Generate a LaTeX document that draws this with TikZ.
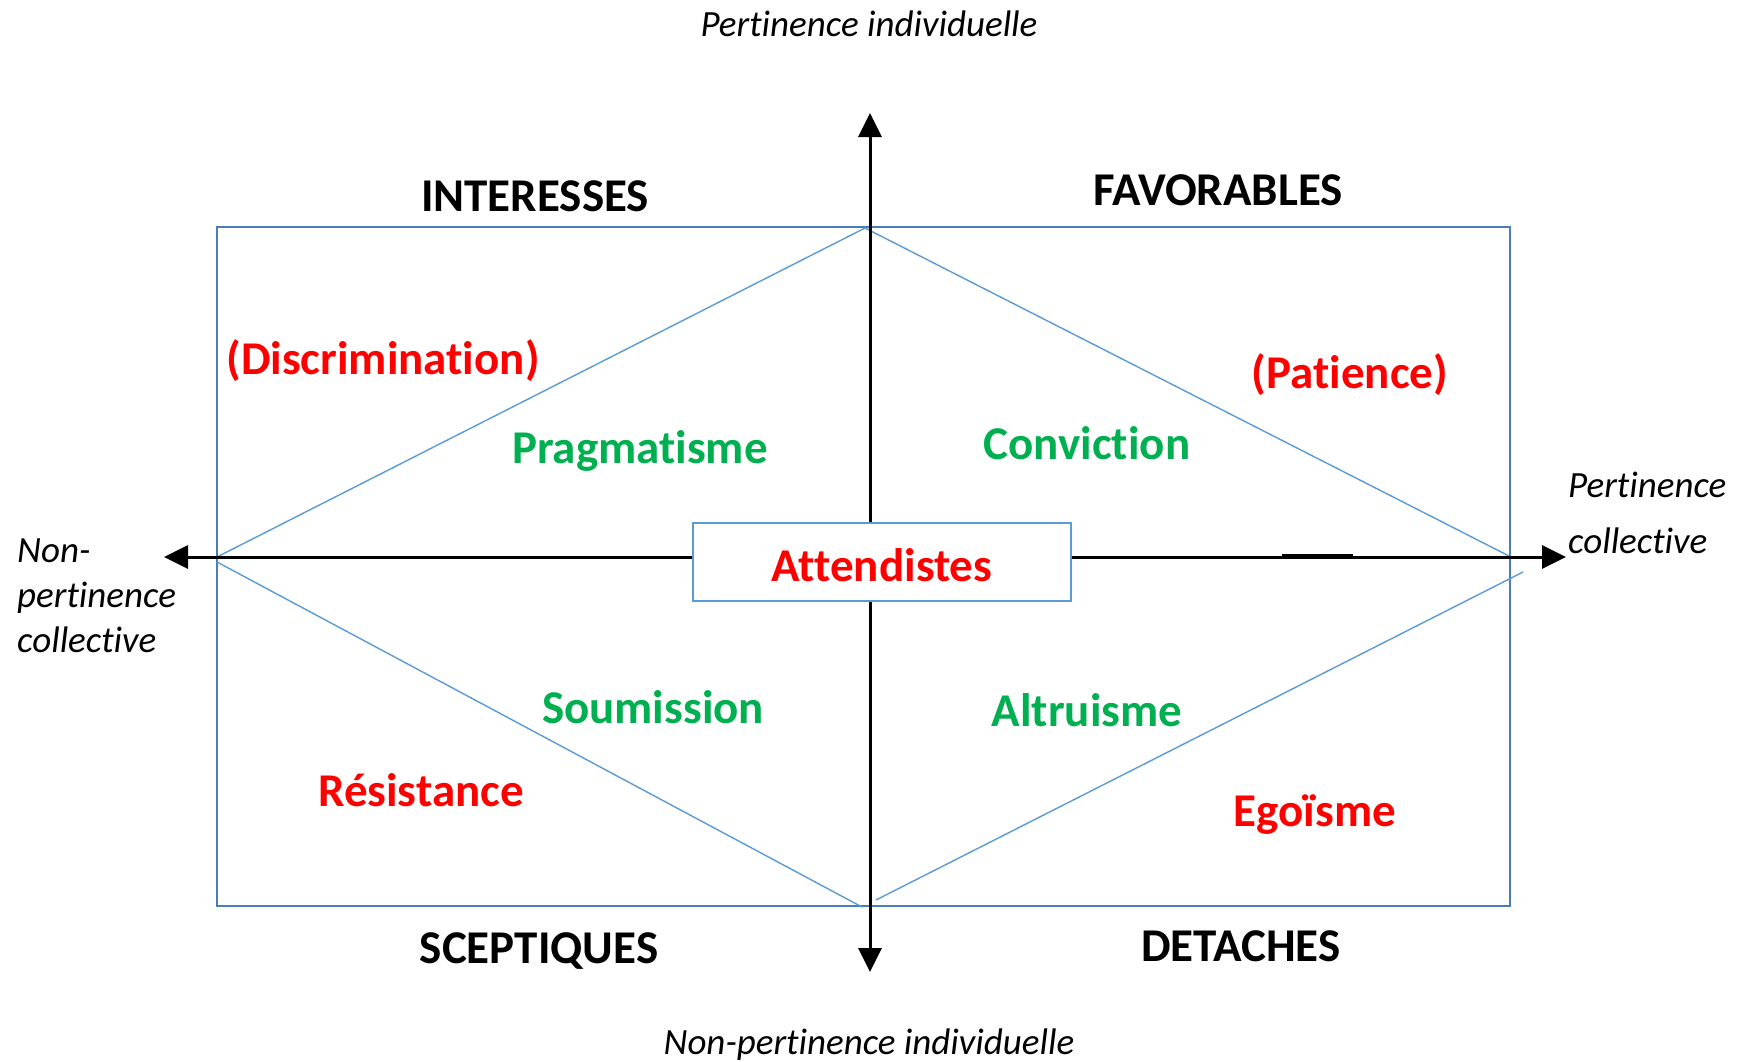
\documentclass[tikz,border=0pt]{standalone}
\usepackage{fontspec}
\setmainfont{Carlito}[RawFeature={-liga;-clig;-calt;-dlig;-rlig}]
\usetikzlibrary{arrows.meta}
\definecolor{boxblue}{HTML}{4A7EBB}
\definecolor{diamblue}{HTML}{5B9BD5}
\definecolor{lblred}{HTML}{FF0000}
\definecolor{lblgreen}{HTML}{00B050}
\tikzset{
  axis/.style={line width=3pt, black, -{Triangle[length=24pt,width=23pt]}},
  frame/.style={line width=2.5pt, boxblue},
  diag/.style={line width=1.4pt, diamblue},
  head/.style={font=\fontsize{47}{50}\selectfont\bfseries, text=black, inner sep=0pt},
  redlbl/.style={font=\fontsize{47}{50}\selectfont\bfseries, text=lblred, inner sep=0pt},
  greenlbl/.style={font=\fontsize{47}{50}\selectfont\bfseries, text=lblgreen, inner sep=0pt},
  axlbl/.style={font=\fontsize{37}{45}\selectfont\itshape, text=black, inner sep=0pt, align=left},
}
\begin{document}
\begin{tikzpicture}[x=1pt,y=-1pt]
  \useasboundingbox (0,0) rectangle (1738,1061);
  \fill[white] (0,0) rectangle (1738,1061);

  % outer frame
  \draw[frame] (217,227) rectangle (1510,906);

  % diamond
  \coordinate (dT) at (865,228);
  \coordinate (dL) at (217,557);
  \coordinate (dR) at (1511,557);
  \coordinate (dB) at (862,907);
  \coordinate (dB2) at (876,900);
  \coordinate (dR2) at (1523,572);
  \coordinate (dL2) at (217,562);
  \draw[diag] (dL) -- (dT) -- (dR);
  \draw[diag] (dL2) -- (dB);
  \draw[diag] (dB2) -- (dR2);

  % centre box
  \node[draw=diamblue, line width=2pt, fill=white, minimum width=378pt, minimum height=78pt,
        inner sep=0pt] (att) at (882,562) {};
  \node[redlbl] (attl) at (882,565) {Attendistes};

  % axes
  \coordinate (tipT) at (870,113);
  \coordinate (tipB) at (870,972);
  \coordinate (tipL) at (164,557);
  \coordinate (tipR) at (1566,557);
  \draw[axis] (att.north -| tipT) -- (tipT);
  \draw[axis] (att.south -| tipB) -- (tipB);
  \draw[axis] (att.west |- tipL) -- (tipL);
  \draw[axis] (att.east |- tipR) -- (tipR);
  \coordinate (segA) at (1282,556.5);
  \coordinate (segB) at (1353,556.5);
  \draw[line width=4.5pt] (segA) -- (segB);

  % axis labels
  \node[axlbl, anchor=center] (pi) at (869,24) {Pertinence individuelle};
  \node[axlbl, anchor=center] (npi) at (869,1045) {Non-pertinence individuelle};
  \node[axlbl, anchor=north west] (npc) at (17,539) {Non-\\pertinence\\collective};
  \node[axlbl, anchor=north west] (pc) at (1568,472) {Pertinence\\[11pt]collective};

  % quadrant titles
  \node[head] (q1) at (535,196) {INTERESSES};
  \node[head] (q2) at (1218,190) {FAVORABLES};
  \node[head] (q3) at (539,951) {SCEPTIQUES};
  \node[head] (q4) at (1241,946) {DETACHES};

  % attitudes
  \node[redlbl] (l1) at (383,361) {(Discrimination)};
  \node[greenlbl] (l2) at (640,451) {Pragmatisme};
  \node[greenlbl] (l3) at (1087,443) {Conviction};
  \node[redlbl] (l4) at (1350,375) {(Patience)};
  \node[greenlbl] (l5) at (653,707) {Soumission};
  \node[redlbl] (l6) at (421,790) {Résistance};
  \node[greenlbl] (l7) at (1087,710) {Altruisme};
  \node[redlbl] (l8) at (1315,815) {Egoïsme};
\end{tikzpicture}
\end{document}
